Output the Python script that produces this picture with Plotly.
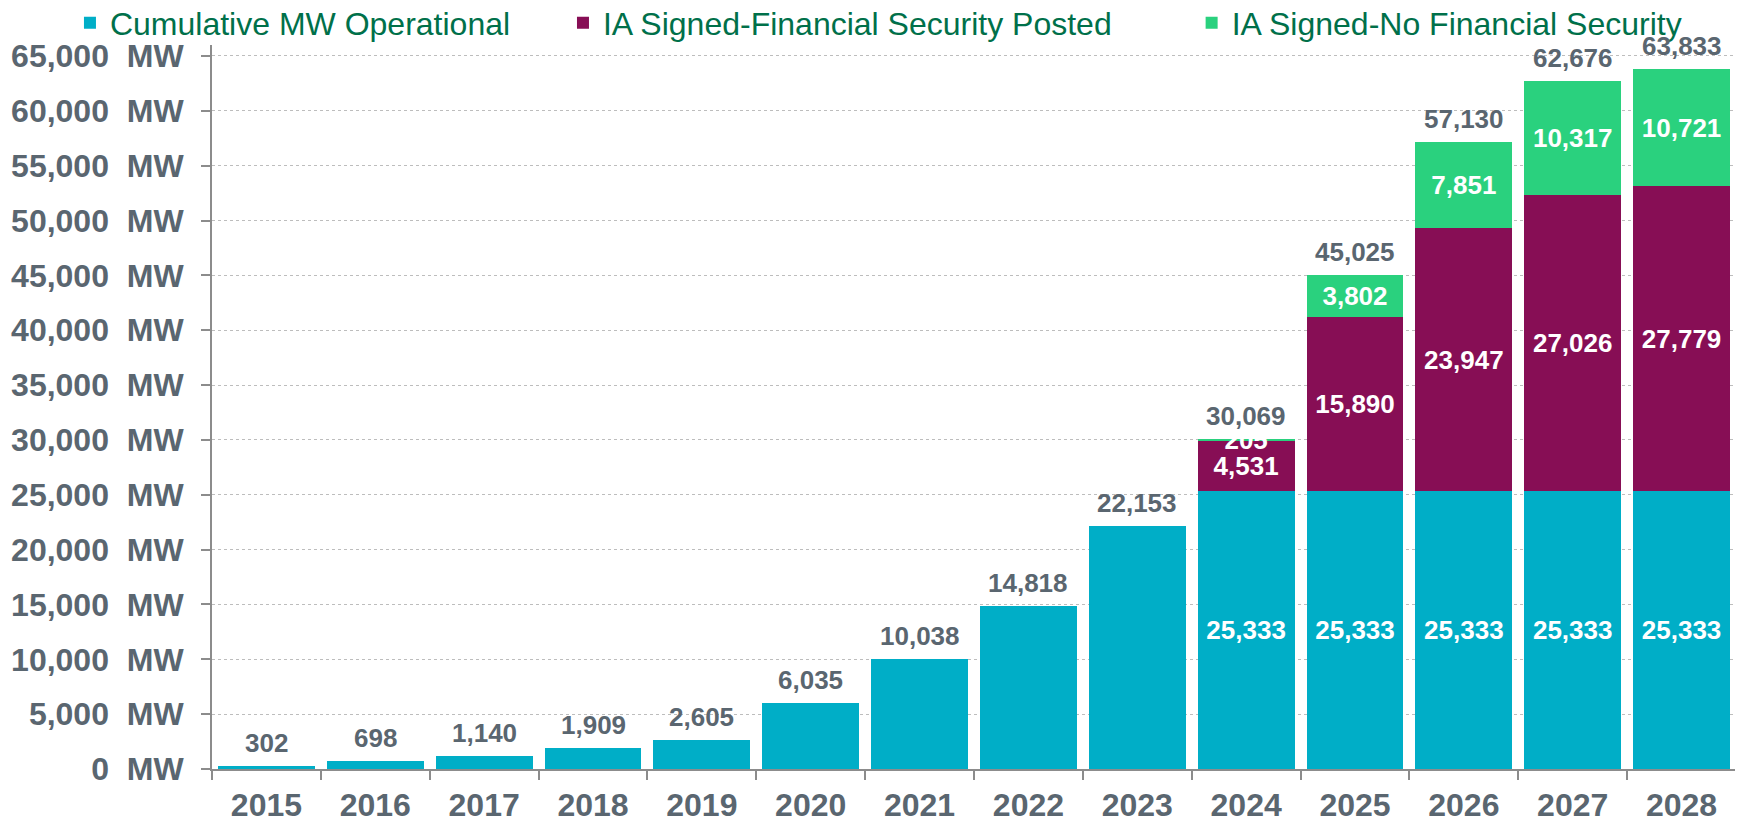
import plotly.graph_objects as go

years = ["2015", "2016", "2017", "2018", "2019", "2020", "2021",
         "2022", "2023", "2024", "2025", "2026", "2027", "2028"]
operational = [302, 698, 1140, 1909, 2605, 6035, 10038,
               14818, 22153, 25333, 25333, 25333, 25333, 25333]
fin_posted = [None] * 9 + [4531, 15890, 23947, 27026, 27779]
no_fin = [None] * 9 + [205, 3802, 7851, 10317, 10721]
totals = [302, 698, 1140, 1909, 2605, 6035, 10038,
          14818, 22153, 30069, 45025, 57130, 62676, 63833]
y_ticks = list(range(0, 65001, 5000))

TEAL = "#00AEC7"
PURPLE = "#870E55"
GREEN = "#2AD17E"
GREY = "#5A6670"
LEGEND_GREEN = "#00704A"
FONT = "Liberation Sans, Arial, sans-serif"


def fmt(v):
    return "" if v is None else f"{v:,}"


# only the forecast years carry a label inside the operational bar
op_text = [fmt(v) if i >= 9 else "" for i, v in enumerate(operational)]

fig = go.Figure()
series = [
    ("Cumulative MW Operational", operational, op_text, TEAL, "legend"),
    ("IA Signed-Financial Security Posted", fin_posted, [fmt(v) for v in fin_posted], PURPLE, "legend2"),
    ("IA Signed-No Financial Security", no_fin, [fmt(v) for v in no_fin], GREEN, "legend3"),
]
for name, vals, txt, color, leg in series:
    fig.add_trace(go.Bar(
        x=years, y=vals, name=name, legend=leg, showlegend=True,
        marker=dict(color=color, line=dict(width=0)),
        text=txt, textposition="inside", insidetextanchor="middle",
        textfont=dict(family=FONT, size=26, color="white", weight="bold"),
        hoverinfo="x+y+name",
    ))

# totals above each stack; category axis is indexed by position
for i, tot in enumerate(totals):
    fig.add_annotation(
        x=i, y=tot, xref="x", yref="y", text=f"{tot:,}", showarrow=False,
        yanchor="bottom", yshift=6,
        font=dict(family=FONT, size=26, color=GREY, weight="bold"),
    )

leg_common = dict(
    visible=True, orientation="h", yanchor="middle", y=1.0305, xanchor="left",
    font=dict(family=FONT, size=32, color=LEGEND_GREEN),
    bgcolor="rgba(0,0,0,0)", borderwidth=0,
)

fig.update_layout(
    width=1728, height=815,
    showlegend=True,
    barmode="stack", bargap=0.11,
    plot_bgcolor="white", paper_bgcolor="white",
    margin=dict(l=204, r=0, t=37, b=54, autoexpand=False),
    uniformtext=dict(minsize=26, mode="show"),
    legend=dict(leg_common, x=-0.0932),
    legend2=dict(leg_common, x=0.2303),
    legend3=dict(leg_common, x=0.6428),
    font=dict(family=FONT, color=GREY),
    xaxis=dict(
        type="category", categoryorder="array", categoryarray=years,
        range=[-0.5, len(years) - 0.5], tickson="boundaries",
        showline=True, linecolor="#8C8C8C", linewidth=2,
        ticks="outside", ticklen=9, tickwidth=2, tickcolor="#8C8C8C",
        ticklabelstandoff=7,
        tickfont=dict(family=FONT, size=32, color=GREY, weight="bold"),
        tickangle=0, showgrid=False, automargin=False,
    ),
    yaxis=dict(
        range=[0, 66000], tickvals=y_ticks,
        ticktext=[f"{v:,}\u00a0\u00a0MW" for v in y_ticks],
        showline=True, linecolor="#8C8C8C", linewidth=2,
        ticks="outside", ticklen=9, tickwidth=2, tickcolor="#8C8C8C",
        ticklabelstandoff=11,
        tickfont=dict(family=FONT, size=32, color=GREY, weight="bold"),
        showgrid=True, gridcolor="#BDBDBD", griddash="dot", gridwidth=1,
        zeroline=False, automargin=False,
    ),
)

fig.write_html("out.html")
